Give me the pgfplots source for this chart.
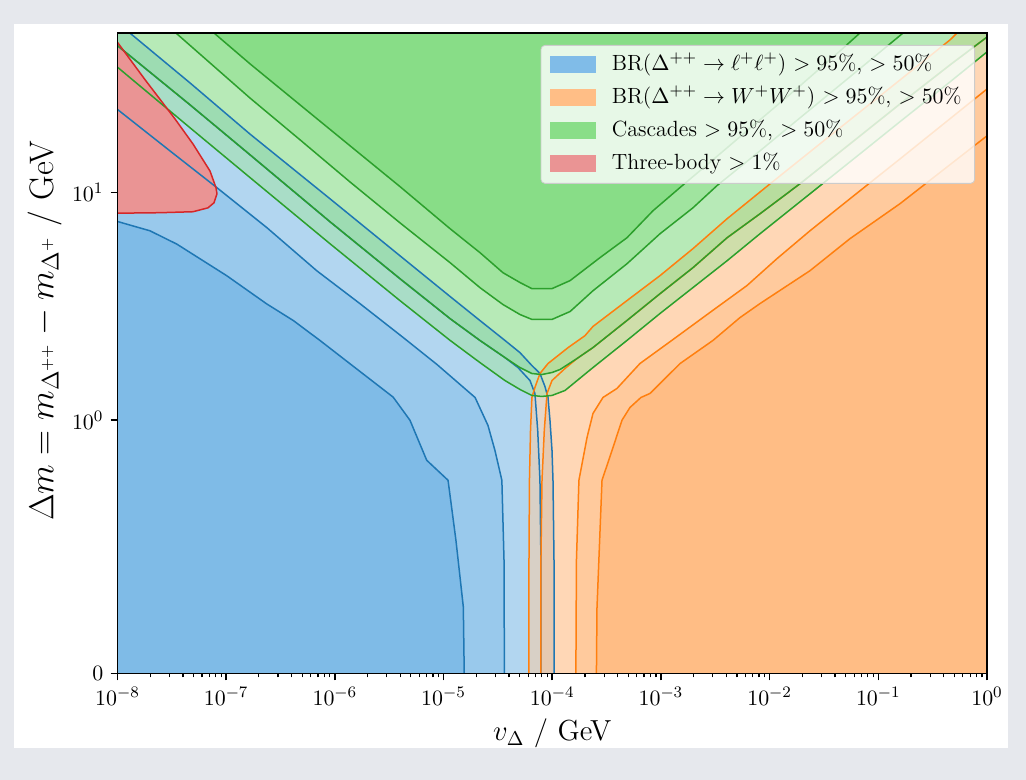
\documentclass[border=0pt]{standalone}
\usepackage{pgfplots}
\pgfplotsset{compat=1.18}
\newcommand{\pct}{\%}
\newcommand{\legA}{BR($\Delta^{++}\to\ell^+\ell^+$) $>95$\pct, $>50$\pct}
\newcommand{\legB}{BR($\Delta^{++}\to W^+W^+$) $>95$\pct, $>50$\pct}
\newcommand{\legC}{Cascades $>95$\pct, $>50$\pct}
\newcommand{\legD}{Three-body $>1$\pct}
% band colours (drawn at opacity 0.5)
\definecolor{bA}{RGB}{153,201,237}
\definecolor{bB}{RGB}{103,175,227}
\definecolor{bC}{RGB}{52,148,218}
\definecolor{bD}{RGB}{1,121,209}
\definecolor{oA}{RGB}{255,203,158}
\definecolor{oB}{RGB}{255,177,110}
\definecolor{oC}{RGB}{255,151,61}
\definecolor{oD}{RGB}{255,125,13}
\definecolor{gA}{RGB}{161,229,160}
\definecolor{gB}{RGB}{113,215,112}
\definecolor{gC}{RGB}{66,202,65}
\definecolor{gD}{RGB}{19,189,17}
\definecolor{rA}{RGB}{234,148,148}
% line colours
\definecolor{tB}{RGB}{31,119,180}
\definecolor{tO}{RGB}{255,127,14}
\definecolor{tG}{RGB}{44,160,44}
\definecolor{tR}{RGB}{214,39,40}
% legend patches
\definecolor{lB}{RGB}{128,188,232}
\definecolor{lO}{RGB}{255,190,134}
\definecolor{lG}{RGB}{137,222,136}
\definecolor{lR}{RGB}{234,148,148}
\definecolor{slide}{RGB}{230,232,237}
\begin{document}
\begin{tikzpicture}
\useasboundingbox (-58.75pt,-53.25pt) rectangle (454.25pt,336.75pt);
\fill[slide] (-58.75pt,-53.25pt) rectangle (454.25pt,336.75pt);
\fill[white] (-51.75pt,-37.25pt) rectangle (445.25pt,324.75pt);
\begin{axis}[
  scale only axis, width=434.75pt, height=320.25pt,
  xmode=log, xmin=1e-8, xmax=1, ymin=0, ymax=50,
  y coord trafo/.code={\pgfmathparse{min(#1,1)/0.9+log10(max(#1,1))}},
  ytick={0,1,10}, yticklabels={$0$,$10^{0}$,$10^{1}$},
  xtick={1e-8,1e-7,1e-6,1e-5,1e-4,1e-3,1e-2,1e-1,1},
  tick pos=left, tick align=outside,
  major tick length=3.5pt, minor tick length=2pt,
  every tick/.style={black, line width=0.8pt},
  every minor tick/.style={black, line width=0.6pt},
  axis line style={line width=0.8pt},
  ticklabel style={font=\fontsize{11}{13}\selectfont},
  xlabel={$v_\Delta$ / GeV},
  ylabel={$\Delta m = m_{\Delta^{++}} - m_{\Delta^+}$ / GeV},
  xlabel style={font=\fontsize{14.5}{17}\selectfont, at={(axis description cs:0.5,-0.0937)}, anchor=center},
  ylabel style={font=\fontsize{17}{20}\selectfont, at={(axis description cs:-0.0834,0.535)}, anchor=center},
  axis on top,
  legend style={at={(0.9862,0.9813)}, anchor=north east, draw=black!20, fill=white,
    fill opacity=0.8, draw opacity=1, text opacity=1, rounded corners=2pt,
    font=\fontsize{11}{13}\selectfont, inner xsep=4.5pt, inner ysep=4pt,
    row sep=5pt, column sep=6pt,
    nodes={inner xsep=2pt, inner ysep=0pt, text height=8.5pt, text depth=3pt}},
  legend cell align=left,
]
% ---------------- blue bands ----------------
\addplot[draw=none, fill=bA, fill opacity=0.5, forget plot] coordinates {
(1e-8,50) (1.30e-8,50) (4.65e-8,30.2) (1.66e-7,18.0) (9.02e-7,9.37) (3.97e-6,5.27) (1.15e-5,3.49) (2.16e-5,2.74) (3.67e-5,2.24) (5.05e-5,1.98) (6.37e-5,1.756) (7.71e-5,1.604) (8.57e-5,1.406) (9.14e-5,1.259) (9.53e-5,1.0) (9.95e-5,0.881) (1.016e-4,0.763) (1.038e-4,0.447) (1.038e-4,0)
(7.87e-5,0) (7.87e-5,0.447) (7.71e-5,0.763) (7.35e-5,0.960) (6.93e-5,1.311) (6.24e-5,1.494) (4.84e-5,1.703) (3.67e-5,1.884) (2.16e-5,2.24) (1.15e-5,2.79) (3.97e-6,4.18) (9.02e-7,7.43) (1.66e-7,14.6) (4.65e-8,24.2) (1e-8,44.0)};
\addplot[draw=none, fill=bB, fill opacity=0.5, forget plot] coordinates {
(1e-8,44.0) (4.65e-8,24.2) (1.66e-7,14.6) (9.02e-7,7.43) (3.97e-6,4.18) (1.15e-5,2.79) (2.16e-5,2.24) (3.67e-5,1.884) (4.84e-5,1.703) (6.24e-5,1.494) (6.93e-5,1.311) (7.35e-5,0.960) (7.71e-5,0.763) (7.87e-5,0.447) (7.87e-5,0)
(3.63e-5,0) (3.60e-5,0.447) (3.44e-5,0.763) (2.97e-5,0.881) (2.56e-5,0.980) (1.95e-5,1.259) (8.71e-6,1.756) (4.24e-6,2.31) (1.70e-6,3.25) (6.81e-7,4.53) (2.36e-7,7.01) (8.18e-8,10.5) (3.04e-8,15.2) (1e-8,23.1)};
\addplot[draw=none, fill=bC, fill opacity=0.5, forget plot] coordinates {
(1e-8,23.1) (3.04e-8,15.2) (8.18e-8,10.5) (2.36e-7,7.01) (6.81e-7,4.53) (1.70e-6,3.25) (4.24e-6,2.31) (8.71e-6,1.756) (1.95e-5,1.259) (2.56e-5,0.980) (2.97e-5,0.881) (3.44e-5,0.763) (3.60e-5,0.447) (3.63e-5,0)
(1.55e-5,0) (1.52e-5,0.263) (1.30e-5,0.526) (1.10e-5,0.763) (7.00e-6,0.842) (4.91e-6,1.0) (3.44e-6,1.263) (1.38e-6,1.769) (7.29e-7,2.24) (4.14e-7,2.74) (2.36e-7,3.24) (1.01e-7,4.31) (5.6e-8,5.15) (3.51e-8,5.93) (1.99e-8,6.78) (1e-8,7.45)};
\addplot[draw=none, fill=bD, fill opacity=0.5, forget plot] coordinates {
(1e-8,7.45) (1.99e-8,6.78) (3.51e-8,5.93) (5.6e-8,5.15) (1.01e-7,4.31) (2.36e-7,3.24) (4.14e-7,2.74) (7.29e-7,2.24) (1.38e-6,1.769) (3.44e-6,1.263) (4.91e-6,1.0) (7.00e-6,0.842) (1.10e-5,0.763) (1.30e-5,0.526) (1.52e-5,0.263) (1.55e-5,0) (1e-8,0)};
% ---------------- orange bands ----------------
\addplot[draw=none, fill=oA, fill opacity=0.5, forget plot] coordinates {
(0.530,50) (0.456,46.6) (0.128,28.7) (3.59e-2,17.7) (1.01e-2,10.9) (4.06e-3,7.66) (1.97e-3,5.66) (9.80e-4,4.31) (4.87e-4,3.35) (2.37e-4,2.58) (2.00e-4,2.35) (1.40e-4,2.084) (9.14e-5,1.774) (7.71e-5,1.604) (6.93e-5,1.393) (6.50e-5,1.259) (6.31e-5,0.960) (6.17e-5,0.763) (6.11e-5,0.447) (6.11e-5,0)
(7.87e-5,0) (7.87e-5,0.447) (8.05e-5,0.763) (8.45e-5,0.960) (8.95e-5,1.311) (9.95e-5,1.494) (1.31e-4,1.687) (1.69e-4,1.866) (2.37e-4,2.084) (4.87e-4,2.74) (9.80e-4,3.59) (1.97e-3,4.67) (4.06e-3,6.32) (8.15e-3,8.05) (1.90e-2,10.9) (5.48e-2,16.3) (0.158,24.4) (0.456,36.2) (1,48.0) (1,50)};
\addplot[draw=none, fill=oB, fill opacity=0.5, forget plot] coordinates {
(1,48.0) (0.456,36.2) (0.158,24.4) (5.48e-2,16.3) (1.90e-2,10.9) (8.15e-3,8.05) (4.06e-3,6.32) (1.97e-3,4.67) (9.80e-4,3.59) (4.87e-4,2.74) (2.37e-4,2.084) (1.69e-4,1.866) (1.31e-4,1.687) (9.95e-5,1.494) (8.95e-5,1.311) (8.45e-5,0.960) (8.05e-5,0.763) (7.87e-5,0.447) (7.87e-5,0)
(1.65e-4,0) (1.67e-4,0.447) (1.76e-4,0.763) (2.09e-4,0.932) (2.37e-4,1.071) (2.93e-4,1.259) (3.94e-4,1.379) (6.41e-4,1.774) (1.29e-3,2.26) (2.82e-3,2.97) (6.19e-3,3.90) (1.17e-2,5.12) (2.35e-2,6.78) (5.48e-2,9.37) (0.158,14.0) (1,28.4)};
\addplot[draw=none, fill=oC, fill opacity=0.5, forget plot] coordinates {
(1,28.4) (0.158,14.0) (5.48e-2,9.37) (2.35e-2,6.78) (1.17e-2,5.12) (6.19e-3,3.90) (2.82e-3,2.97) (1.29e-3,2.26) (6.41e-4,1.774) (3.94e-4,1.379) (2.93e-4,1.259) (2.37e-4,1.071) (2.09e-4,0.932) (1.76e-4,0.763) (1.67e-4,0.447) (1.65e-4,0)
(2.55e-4,0) (2.58e-4,0.258) (2.87e-4,0.763) (3.55e-4,0.881) (4.38e-4,1.0) (5.19e-4,1.138) (6.55e-4,1.259) (7.93e-4,1.311) (1.50e-3,1.774) (3.01e-3,2.24) (5.33e-3,2.82) (8.15e-3,3.25) (2.35e-2,4.53) (5.48e-2,6.26) (0.158,8.91) (1,17.7)};
\addplot[draw=none, fill=oD, fill opacity=0.5, forget plot] coordinates {
(1,17.7) (0.158,8.91) (5.48e-2,6.26) (2.35e-2,4.53) (8.15e-3,3.25) (5.33e-3,2.82) (3.01e-3,2.24) (1.50e-3,1.774) (7.93e-4,1.311) (6.55e-4,1.259) (5.19e-4,1.138) (4.38e-4,1.0) (3.55e-4,0.881) (2.87e-4,0.763) (2.58e-4,0.258) (2.55e-4,0) (1,0)};
% ---------------- green bands ----------------
\addplot[draw=none, fill=gA, fill opacity=0.5, forget plot] coordinates {
(1e-8,35.4) (4.65e-8,19.2) (1.66e-7,11.6) (9.02e-7,5.95) (3.97e-6,3.35) (1.15e-5,2.24) (2.16e-5,1.792) (3.67e-5,1.494) (5.05e-5,1.365) (6.50e-5,1.285) (8.00e-5,1.272) (9.95e-5,1.285) (1.31e-4,1.351) (2.37e-4,1.703) (4.87e-4,2.24) (9.80e-4,2.94) (1.97e-3,3.82) (4.06e-3,5.01) (8.15e-3,6.58) (2.35e-2,9.85) (6.78e-2,14.75) (0.158,20.4) (0.456,30.5) (1,41.3)
(1,48.0) (0.456,36.2) (0.158,24.4) (5.48e-2,16.3) (1.90e-2,10.9) (8.15e-3,8.05) (4.06e-3,6.32) (1.97e-3,4.67) (9.80e-4,3.59) (4.87e-4,2.74) (2.37e-4,2.084) (1.69e-4,1.866) (1.18e-4,1.670) (9.95e-5,1.620) (8.00e-5,1.587) (6.50e-5,1.604) (5.05e-5,1.703) (3.67e-5,1.884) (2.16e-5,2.24) (1.15e-5,2.79) (3.97e-6,4.18) (9.02e-7,7.43) (1.66e-7,14.6) (4.65e-8,24.2) (1e-8,44.0)};
\addplot[draw=none, fill=gB, fill opacity=0.5, forget plot] coordinates {
(1e-8,44.0) (4.65e-8,24.2) (1.66e-7,14.6) (9.02e-7,7.43) (3.97e-6,4.18) (1.15e-5,2.79) (2.16e-5,2.24) (3.67e-5,1.884) (5.05e-5,1.703) (6.50e-5,1.604) (8.00e-5,1.587) (9.95e-5,1.620) (1.18e-4,1.670) (1.69e-4,1.866) (2.37e-4,2.084) (4.87e-4,2.74) (9.80e-4,3.59) (1.97e-3,4.67) (4.06e-3,6.32) (8.15e-3,8.05) (1.90e-2,10.9) (5.48e-2,16.3) (0.158,24.4) (0.456,36.2) (1,48.0) (1,50)
(0.169,50) (5.48e-2,32.1) (1.90e-2,21.2) (8.15e-3,15.2) (3.28e-3,10.7) (1.97e-3,8.55) (9.80e-4,6.58) (4.87e-4,4.86) (2.37e-4,3.70) (1.46e-4,3.00) (9.95e-5,2.77) (6.50e-5,2.77) (5.05e-5,2.91) (3.52e-5,3.22) (2.16e-5,3.82) (1.15e-5,4.91) (3.97e-6,7.35) (1.38e-6,11.1) (4.78e-7,17.0) (1.66e-7,25.9) (3.45e-8,50) (1e-8,50)};
\addplot[draw=none, fill=gC, fill opacity=0.5, forget plot] coordinates {
(3.45e-8,50) (1.66e-7,25.9) (4.78e-7,17.0) (1.38e-6,11.1) (3.97e-6,7.35) (1.15e-5,4.91) (2.16e-5,3.82) (3.52e-5,3.22) (5.05e-5,2.91) (6.50e-5,2.77) (9.95e-5,2.77) (1.46e-4,3.00) (2.37e-4,3.70) (4.87e-4,4.86) (9.80e-4,6.58) (1.97e-3,8.55) (3.28e-3,10.7) (8.15e-3,15.2) (1.90e-2,21.2) (5.48e-2,32.1) (0.169,50)
(6.78e-2,50) (4.44e-2,41.7) (1.90e-2,29.3) (8.15e-3,20.8) (3.49e-3,14.75) (1.50e-3,10.5) (8.45e-4,8.30) (4.87e-4,6.32) (2.75e-4,5.17) (1.46e-4,4.10) (9.95e-5,3.78) (6.50e-5,3.78) (5.05e-5,4.02) (3.52e-5,4.44) (2.16e-5,5.44) (1.15e-5,6.92) (3.97e-6,10.6) (1.38e-6,16.0) (4.78e-7,24.2) (1.66e-7,36.6) (7.73e-8,50)};
\addplot[draw=none, fill=gD, fill opacity=0.5, forget plot] coordinates {
(7.73e-8,50) (1.66e-7,36.6) (4.78e-7,24.2) (1.38e-6,16.0) (3.97e-6,10.6) (1.15e-5,6.92) (2.16e-5,5.44) (3.52e-5,4.44) (5.05e-5,4.02) (6.50e-5,3.78) (9.95e-5,3.78) (1.46e-4,4.10) (2.75e-4,5.17) (4.87e-4,6.32) (8.45e-4,8.30) (1.50e-3,10.5) (3.49e-3,14.75) (8.15e-3,20.8) (1.90e-2,29.3) (4.44e-2,41.7) (6.78e-2,50)};
% ---------------- three-body region ----------------
\addplot[draw=none, fill=rA, forget plot] coordinates {
(1e-8,45.5) (1.83e-8,30.8) (3.38e-8,21.0) (4.95e-8,16.3) (7.10e-8,12.4) (8.05e-8,10.5) (8.23e-8,9.85) (7.73e-8,9.00) (6.80e-8,8.55) (4.95e-8,8.22) (2.46e-8,8.14) (1e-8,8.10)};
% ---------------- contour lines ----------------
\pgfplotsset{cline/.style={line width=0.75pt, line join=round, forget plot}}
% blue
\addplot[cline, tB] coordinates {(1.30e-8,50) (4.65e-8,30.2) (1.66e-7,18.0) (9.02e-7,9.37) (3.97e-6,5.27) (1.15e-5,3.49) (2.16e-5,2.74) (3.67e-5,2.24) (5.05e-5,1.98) (6.37e-5,1.756) (7.71e-5,1.604) (8.57e-5,1.406) (9.14e-5,1.259) (9.53e-5,1.0) (9.95e-5,0.881) (1.016e-4,0.763) (1.038e-4,0.447) (1.038e-4,0)};
\addplot[cline, tB] coordinates {(1e-8,44.0) (4.65e-8,24.2) (1.66e-7,14.6) (9.02e-7,7.43) (3.97e-6,4.18) (1.15e-5,2.79) (2.16e-5,2.24) (3.67e-5,1.884) (4.84e-5,1.703) (6.24e-5,1.494) (6.93e-5,1.311) (7.35e-5,0.960) (7.71e-5,0.763) (7.87e-5,0.447) (7.87e-5,0)};
\addplot[cline, tB] coordinates {(1e-8,23.1) (3.04e-8,15.2) (8.18e-8,10.5) (2.36e-7,7.01) (6.81e-7,4.53) (1.70e-6,3.25) (4.24e-6,2.31) (8.71e-6,1.756) (1.95e-5,1.259) (2.56e-5,0.980) (2.97e-5,0.881) (3.44e-5,0.763) (3.60e-5,0.447) (3.63e-5,0)};
\addplot[cline, tB] coordinates {(1e-8,7.45) (1.99e-8,6.78) (3.51e-8,5.93) (5.6e-8,5.15) (1.01e-7,4.31) (2.36e-7,3.24) (4.14e-7,2.74) (7.29e-7,2.24) (1.38e-6,1.769) (3.44e-6,1.263) (4.91e-6,1.0) (7.00e-6,0.842) (1.10e-5,0.763) (1.30e-5,0.526) (1.52e-5,0.263) (1.55e-5,0)};
% orange
\addplot[cline, tO] coordinates {(0.530,50) (0.456,46.6) (0.128,28.7) (3.59e-2,17.7) (1.01e-2,10.9) (4.06e-3,7.66) (1.97e-3,5.66) (9.80e-4,4.31) (4.87e-4,3.35) (2.37e-4,2.58) (2.00e-4,2.35) (1.40e-4,2.084) (9.14e-5,1.774) (7.71e-5,1.604) (6.93e-5,1.393) (6.50e-5,1.259) (6.31e-5,0.960) (6.17e-5,0.763) (6.11e-5,0.447) (6.11e-5,0)};
\addplot[cline, tO] coordinates {(1,48.0) (0.456,36.2) (0.158,24.4) (5.48e-2,16.3) (1.90e-2,10.9) (8.15e-3,8.05) (4.06e-3,6.32) (1.97e-3,4.67) (9.80e-4,3.59) (4.87e-4,2.74) (2.37e-4,2.084) (1.69e-4,1.866) (1.31e-4,1.687) (9.95e-5,1.494) (8.95e-5,1.311) (8.45e-5,0.960) (8.05e-5,0.763) (7.87e-5,0.447) (7.87e-5,0)};
\addplot[cline, tO] coordinates {(1,28.4) (0.158,14.0) (5.48e-2,9.37) (2.35e-2,6.78) (1.17e-2,5.12) (6.19e-3,3.90) (2.82e-3,2.97) (1.29e-3,2.26) (6.41e-4,1.774) (3.94e-4,1.379) (2.93e-4,1.259) (2.37e-4,1.071) (2.09e-4,0.932) (1.76e-4,0.763) (1.67e-4,0.447) (1.65e-4,0)};
\addplot[cline, tO] coordinates {(1,17.7) (0.158,8.91) (5.48e-2,6.26) (2.35e-2,4.53) (8.15e-3,3.25) (5.33e-3,2.82) (3.01e-3,2.24) (1.50e-3,1.774) (7.93e-4,1.311) (6.55e-4,1.259) (5.19e-4,1.138) (4.38e-4,1.0) (3.55e-4,0.881) (2.87e-4,0.763) (2.58e-4,0.258) (2.55e-4,0)};
% green
\addplot[cline, tG] coordinates {(1e-8,35.4) (4.65e-8,19.2) (1.66e-7,11.6) (9.02e-7,5.95) (3.97e-6,3.35) (1.15e-5,2.24) (2.16e-5,1.792) (3.67e-5,1.494) (5.05e-5,1.365) (6.50e-5,1.285) (8.00e-5,1.272) (9.95e-5,1.285) (1.31e-4,1.351) (2.37e-4,1.703) (4.87e-4,2.24) (9.80e-4,2.94) (1.97e-3,3.82) (4.06e-3,5.01) (8.15e-3,6.58) (2.35e-2,9.85) (6.78e-2,14.75) (0.158,20.4) (0.456,30.5) (1,41.3)};
\addplot[cline, tG] coordinates {(1e-8,44.0) (4.65e-8,24.2) (1.66e-7,14.6) (9.02e-7,7.43) (3.97e-6,4.18) (1.15e-5,2.79) (2.16e-5,2.24) (3.67e-5,1.884) (5.05e-5,1.703) (6.50e-5,1.604) (8.00e-5,1.587) (9.95e-5,1.620) (1.18e-4,1.670) (1.69e-4,1.866) (2.37e-4,2.084) (4.87e-4,2.74) (9.80e-4,3.59) (1.97e-3,4.67) (4.06e-3,6.32) (8.15e-3,8.05) (1.90e-2,10.9) (5.48e-2,16.3) (0.158,24.4) (0.456,36.2) (1,48.0)};
\addplot[cline, tG] coordinates {(3.45e-8,50) (1.66e-7,25.9) (4.78e-7,17.0) (1.38e-6,11.1) (3.97e-6,7.35) (1.15e-5,4.91) (2.16e-5,3.82) (3.52e-5,3.22) (5.05e-5,2.91) (6.50e-5,2.77) (9.95e-5,2.77) (1.46e-4,3.00) (2.37e-4,3.70) (4.87e-4,4.86) (9.80e-4,6.58) (1.97e-3,8.55) (3.28e-3,10.7) (8.15e-3,15.2) (1.90e-2,21.2) (5.48e-2,32.1) (0.169,50)};
\addplot[cline, tG] coordinates {(7.73e-8,50) (1.66e-7,36.6) (4.78e-7,24.2) (1.38e-6,16.0) (3.97e-6,10.6) (1.15e-5,6.92) (2.16e-5,5.44) (3.52e-5,4.44) (5.05e-5,4.02) (6.50e-5,3.78) (9.95e-5,3.78) (1.46e-4,4.10) (2.75e-4,5.17) (4.87e-4,6.32) (8.45e-4,8.30) (1.50e-3,10.5) (3.49e-3,14.75) (8.15e-3,20.8) (1.90e-2,29.3) (4.44e-2,41.7) (6.78e-2,50)};
% red
\addplot[cline, tR] coordinates {(1e-8,45.5) (1.83e-8,30.8) (3.38e-8,21.0) (4.95e-8,16.3) (7.10e-8,12.4) (8.05e-8,10.5) (8.23e-8,9.85) (7.73e-8,9.00) (6.80e-8,8.55) (4.95e-8,8.22) (2.46e-8,8.14) (1e-8,8.10)};
% ---------------- legend ----------------
\addlegendimage{legend image code/.code={\fill[lB, fill opacity=1, sharp corners] (0pt,-4pt) rectangle (22.5pt,4pt);}}
\addlegendentry{\legA}
\addlegendimage{legend image code/.code={\fill[lO, fill opacity=1, sharp corners] (0pt,-4pt) rectangle (22.5pt,4pt);}}
\addlegendentry{\legB}
\addlegendimage{legend image code/.code={\fill[lG, fill opacity=1, sharp corners] (0pt,-4pt) rectangle (22.5pt,4pt);}}
\addlegendentry{\legC}
\addlegendimage{legend image code/.code={\fill[lR, fill opacity=1, sharp corners] (0pt,-4pt) rectangle (22.5pt,4pt);}}
\addlegendentry{\legD}
\end{axis}
\end{tikzpicture}
\end{document}
